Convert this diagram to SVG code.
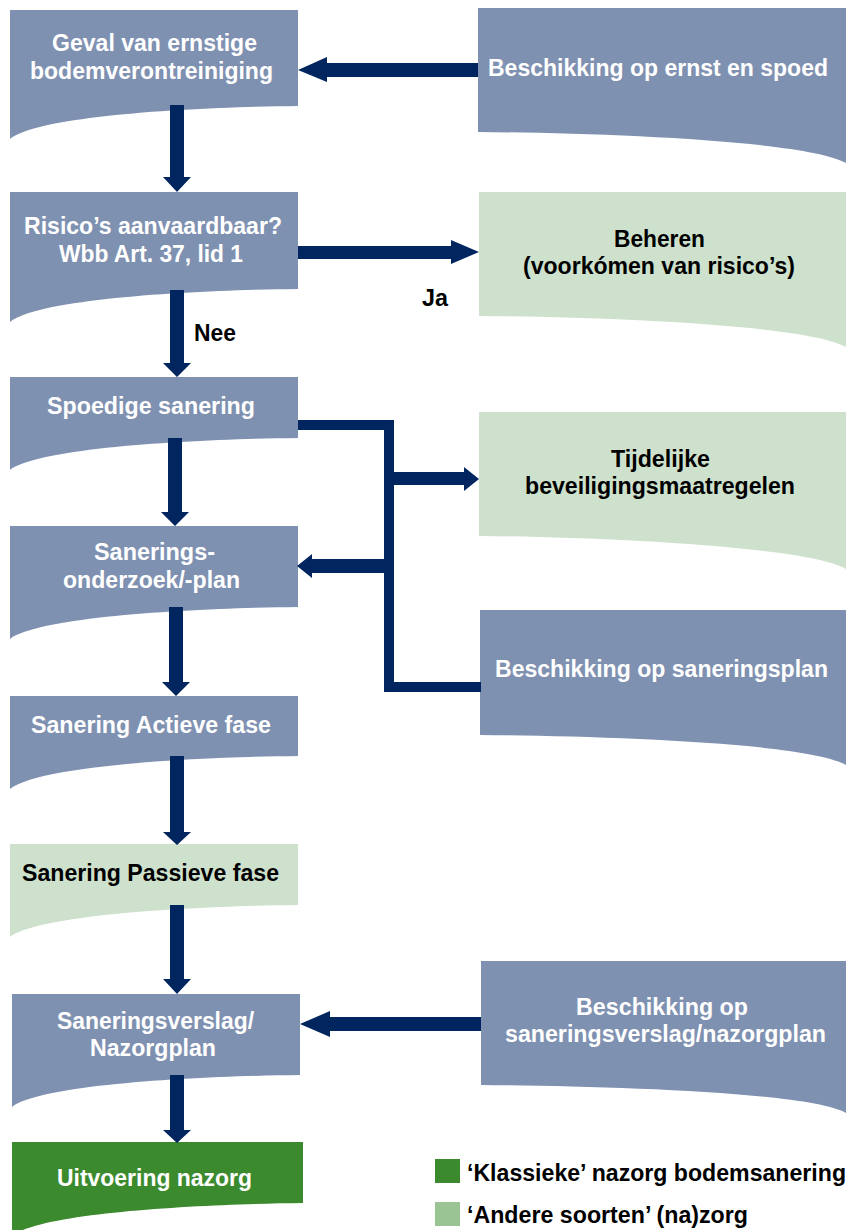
<svg xmlns="http://www.w3.org/2000/svg" width="846" height="1230" viewBox="0 0 846 1230">
<style>
.blue{fill:#7F91B1}
.lgreen{fill:#CEE1CC}
.dgreen{fill:#3C8A2E}
.t{font-family:"Liberation Sans",Arial,sans-serif;font-weight:bold;font-size:23px}
.t2{font-family:"Liberation Sans",Arial,sans-serif;font-weight:bold;font-size:23px}
.w{fill:#FFFFFF}
.k{fill:#000000}
.arr{fill:#00255F}
.line{fill:none;stroke:#00255F;stroke-width:10;stroke-linejoin:miter}
</style>
<rect width="846" height="1230" fill="#FFFFFF"/>

<g id="node-geval">
<path class="blue" d="M10,10 H298 V106 C200,107 40,115 10,139 Z"/>
<text class="t w" x="52" y="51" textLength="205" lengthAdjust="spacingAndGlyphs">Geval van ernstige</text>
<text class="t w" x="30" y="79" textLength="243" lengthAdjust="spacingAndGlyphs">bodemverontreiniging</text>
</g>

<g id="node-beschikking-ernst">
<path class="blue" d="M478,8 H846 V163 C809,141 604,133 478,132 Z"/>
<text class="t w" x="488" y="76" textLength="340" lengthAdjust="spacingAndGlyphs">Beschikking op ernst en spoed</text>
</g>

<g id="node-risico">
<path class="blue" d="M10,192 H298 V289 C200,290 40,298 10,322 Z"/>
<text class="t w" x="24" y="234" textLength="258" lengthAdjust="spacingAndGlyphs">Risico’s aanvaardbaar?</text>
<text class="t w" x="59" y="262" textLength="184" lengthAdjust="spacingAndGlyphs">Wbb Art. 37, lid 1</text>
</g>

<g id="node-beheren">
<path class="lgreen" d="M479,192 H846 V347 C809,325 604,317 479,316 Z"/>
<text class="t k" x="614" y="247" textLength="91" lengthAdjust="spacingAndGlyphs">Beheren</text>
<text class="t k" x="523" y="274" textLength="272" lengthAdjust="spacingAndGlyphs">(voorkómen van risico’s)</text>
</g>

<g id="node-spoedige">
<path class="blue" d="M10,377 H298 V438 C200,439 40,447 10,470 Z"/>
<text class="t w" x="47" y="414" textLength="208" lengthAdjust="spacingAndGlyphs">Spoedige sanering</text>
</g>

<g id="node-tijdelijke">
<path class="lgreen" d="M479,412 H846 V569 C809,547 604,537 479,536 Z"/>
<text class="t k" x="611" y="467" textLength="99" lengthAdjust="spacingAndGlyphs">Tijdelijke</text>
<text class="t k" x="525" y="494" textLength="270" lengthAdjust="spacingAndGlyphs">beveiligingsmaatregelen</text>
</g>

<g id="node-saneringsonderzoek">
<path class="blue" d="M10,526 H298 V607 C200,608 40,616 10,639 Z"/>
<text class="t w" x="94" y="560" textLength="121" lengthAdjust="spacingAndGlyphs">Sanerings-</text>
<text class="t w" x="63" y="588" textLength="177" lengthAdjust="spacingAndGlyphs">onderzoek/-plan</text>
</g>

<g id="node-beschikking-saneringsplan">
<path class="blue" d="M480,610 H846 V765 C809,743 604,736 480,735 Z"/>
<text class="t w" x="495" y="677" textLength="333" lengthAdjust="spacingAndGlyphs">Beschikking op saneringsplan</text>
</g>

<g id="node-actieve">
<path class="blue" d="M10,696 H298 V756 C200,757 40,765 10,789 Z"/>
<text class="t2 w" x="31" y="733" textLength="240" lengthAdjust="spacingAndGlyphs">Sanering Actieve fase</text>
</g>

<g id="node-passieve">
<path class="lgreen" d="M10,844 H298 V905 C200,906 40,914 10,937 Z"/>
<text class="t2 k" x="22" y="881" textLength="257" lengthAdjust="spacingAndGlyphs">Sanering Passieve fase</text>
</g>

<g id="node-saneringsverslag">
<path class="blue" d="M12,994 H300 V1075 C202,1076 42,1084 12,1107 Z"/>
<text class="t w" x="57" y="1029" textLength="197" lengthAdjust="spacingAndGlyphs">Saneringsverslag/</text>
<text class="t w" x="90" y="1056" textLength="126" lengthAdjust="spacingAndGlyphs">Nazorgplan</text>
</g>

<g id="node-beschikking-saneringsverslag">
<path class="blue" d="M481,961 H846 V1113 C809,1092 604,1086 481,1085 Z"/>
<text class="t w" x="576" y="1015" textLength="172" lengthAdjust="spacingAndGlyphs">Beschikking op</text>
<text class="t w" x="505" y="1042" textLength="321" lengthAdjust="spacingAndGlyphs">saneringsverslag/nazorgplan</text>
</g>

<g id="node-uitvoering">
<path class="dgreen" d="M12,1142 H303 V1203 C204,1204 42,1212 12,1236 Z"/>
<text class="t w" x="57" y="1186" textLength="195" lengthAdjust="spacingAndGlyphs">Uitvoering nazorg</text>
</g>

<g id="legend">
<rect x="435" y="1159" width="25" height="24" fill="#3C8A2E"/>
<text class="t k" x="467" y="1181" textLength="379" lengthAdjust="spacingAndGlyphs">‘Klassieke’ nazorg bodemsanering</text>
<rect x="435" y="1202" width="25" height="24" fill="#9BC495"/>
<text class="t k" x="467" y="1223" textLength="281" lengthAdjust="spacingAndGlyphs">‘Andere soorten’ (na)zorg</text>
</g>

<g id="connectors">
<polygon class="arr" points="478,63 327,63 327,57 298,70 327,82 327,77 478,77"/>
<polygon class="arr" points="170,105 184,105 184,177 191,177 177,192 163,177 170,177"/>
<polygon class="arr" points="298,246 451,246 451,240 479,252 451,264 451,259 298,259"/>
<polygon class="arr" points="170,290 184,290 184,363 191,363 177,377 163,363 170,363"/>
<path class="line" d="M298,425 H389 V687 H481"/>
<polygon class="arr" points="389,472 464,472 464,467 479,479 464,491 464,485 389,485"/>
<polygon class="arr" points="389,559 312,559 312,554 297,566 312,578 312,573 389,573"/>
<polygon class="arr" points="168,438 182,438 182,512 189,512 175,526 161,512 168,512"/>
<polygon class="arr" points="169,607 183,607 183,682 190,682 176,696 162,682 169,682"/>
<polygon class="arr" points="170,756 184,756 184,832 191,832 177,845 163,832 170,832"/>
<polygon class="arr" points="170,905 184,905 184,979 191,979 177,994 163,979 170,979"/>
<polygon class="arr" points="481,1017 330,1017 330,1011 300,1024 330,1037 330,1031 481,1031"/>
<polygon class="arr" points="170,1075 184,1075 184,1130 191,1130 177,1143 163,1130 170,1130"/>
<text class="t k" x="422" y="306" textLength="26" lengthAdjust="spacingAndGlyphs">Ja</text>
<text class="t k" x="194" y="341" textLength="42" lengthAdjust="spacingAndGlyphs">Nee</text>
</g>
</svg>
